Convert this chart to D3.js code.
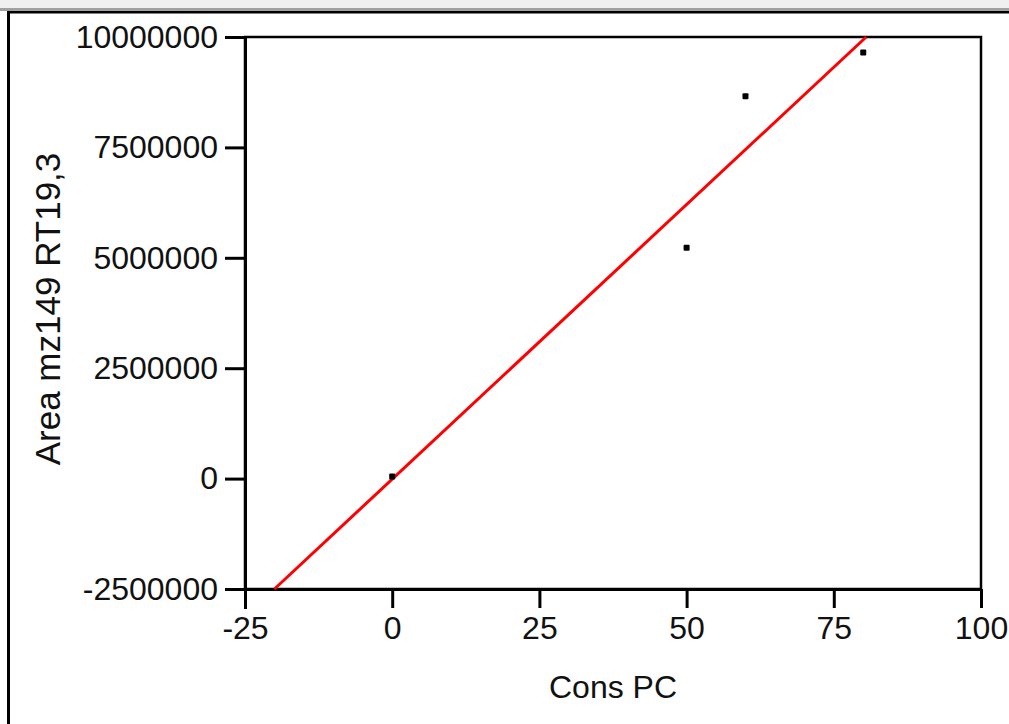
<!DOCTYPE html>
<html>
<head>
<meta charset="utf-8">
<script src="https://cdn.jsdelivr.net/npm/d3@7"></script>
<style>
  html, body { margin: 0; padding: 0; background: #ffffff; }
  svg { display: block; font-family: "Liberation Sans", Arial, sans-serif; }
</style>
</head>
<body>
<svg id="chart" width="1009" height="724"></svg>
<script>
// ---- data ----
const consPC = [0, 50, 60, 80];
const areaValues = [50000, 5230000, 8660000, 9650000];
const xTicks = [-25, 0, 25, 50, 75, 100];
const yTicks = [-2500000, 0, 2500000, 5000000, 7500000, 10000000];
const fitX = [-20, 80.5];
const fitY = [-2500000, 10000000];
const xTitle = "Cons PC";
const yTitle = "Area mz149 RT19,3";

(function () {
const svg = d3.select("#chart");
const W = 1009, H = 724;
const fmt = (d) => String(d);

// window frame
svg.append("rect").attr("x", 0).attr("y", 0).attr("width", W).attr("height", 8).attr("fill", "#f0f0f0");
svg.append("rect").attr("x", 0).attr("y", 8).attr("width", W).attr("height", 3).attr("fill", "#a0a0a0");
svg.append("rect").attr("x", 7).attr("y", 11).attr("width", W - 7).attr("height", 2.5).attr("fill", "#000");
svg.append("rect").attr("x", 7).attr("y", 11).attr("width", 3).attr("height", H - 11).attr("fill", "#000");

const mLeft = 245, mRight = 981, mTop = 37, mBottom = 589;
const x = d3.scaleLinear().domain([-25, 100]).range([mLeft, mRight]);
const y = d3.scaleLinear().domain([-2500000, 10000000]).range([mBottom, mTop]);

// plot box
svg.append("rect").attr("x", mLeft).attr("y", mTop).attr("width", mRight - mLeft).attr("height", mBottom - mTop)
  .attr("fill", "none").attr("stroke", "#000").attr("stroke-width", 2.5);

// axes
const xAxis = d3.axisBottom(x).tickValues(xTicks).tickSize(19).tickPadding(8).tickFormat(fmt);
const gx = svg.append("g").attr("transform", `translate(0,${mBottom})`).call(xAxis);
gx.select(".domain").attr("stroke-width", 3).attr("d", `M${mLeft - 20},0.5H${mRight}`);
gx.selectAll(".tick line").attr("stroke-width", 3);
gx.selectAll(".tick text").attr("font-size", 32).attr("fill", "#111").attr("font-family", "Liberation Sans, Arial, sans-serif");

const yAxis = d3.axisLeft(y).tickValues(yTicks).tickSize(20).tickPadding(7).tickFormat(fmt);
const gy = svg.append("g").attr("transform", `translate(${mLeft},0)`).call(yAxis);
gy.select(".domain").attr("stroke-width", 3).attr("d", `M0.5,${mTop}V${mBottom + 20}`);
gy.selectAll(".tick line").attr("stroke-width", 3);
gy.selectAll(".tick text").attr("font-size", 32).attr("fill", "#111").attr("font-family", "Liberation Sans, Arial, sans-serif");

// fit line
svg.append("line")
  .attr("x1", x(fitX[0])).attr("y1", y(fitY[0]))
  .attr("x2", x(fitX[1])).attr("y2", y(fitY[1]))
  .attr("stroke", "#ff0000").attr("stroke-width", 3);

// points
svg.selectAll("rect.pt").data(consPC).enter().append("rect").attr("class", "pt")
  .attr("x", (d) => x(d) - 3).attr("y", (d, i) => y(areaValues[i]) - 3)
  .attr("width", 6).attr("height", 6).attr("rx", 1).attr("fill", "#000");

// titles
svg.append("text").attr("x", (mLeft + mRight) / 2).attr("y", 698)
  .attr("text-anchor", "middle").attr("font-size", 32).attr("fill", "#111").text(xTitle);
svg.append("text").attr("transform", `translate(60,${(mTop + mBottom) / 2 - 4}) rotate(-90)`)
  .attr("text-anchor", "middle").attr("font-size", 35).attr("fill", "#111").text(yTitle);
})();
</script>
</body>
</html>
